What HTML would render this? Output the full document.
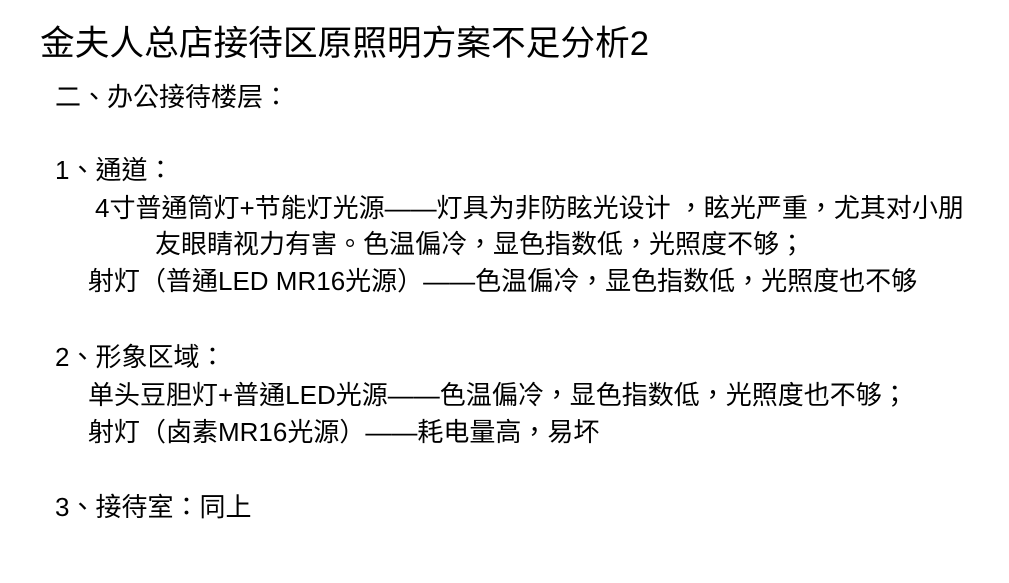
<!DOCTYPE html>
<html><head><meta charset="utf-8"><style>
body{margin:0;width:1009px;height:583px;background:#fff;position:relative;overflow:hidden;font-family:"Liberation Sans","Noto Sans CJK TC",sans-serif;color:#000}
div{position:absolute;white-space:nowrap;font-size:26px;line-height:30px}
.t{font-size:34.7px;line-height:40px;font-family:"Liberation Sans","Noto Sans CJK SC",sans-serif}
</style></head><body>
<div class="t" style="left:40px;top:24px">金夫人总店接待区原照明方案不足分析2</div>
<div style="left:55px;top:82px">二、办公接待楼层：</div>
<div style="left:55px;top:155px">1、通道：</div>
<div style="left:95px;top:193px">4寸普通筒灯+节能灯光源——灯具为非防眩光设计 ，眩光严重，尤其对小朋</div>
<div style="left:155px;top:229px">友眼睛视力有害。色温偏冷，显色指数低，光照度不够；</div>
<div style="left:88px;top:266px">射灯（普通LED MR16光源）——色温偏冷，显色指数低，光照度也不够</div>
<div style="left:55px;top:342px">2、形象区域：</div>
<div style="left:88px;top:380px">单头豆胆灯+普通LED光源——色温偏冷，显色指数低，光照度也不够；</div>
<div style="left:88px;top:417px">射灯（卤素MR16光源）——耗电量高，易坏</div>
<div style="left:55px;top:492px">3、接待室：同上</div>
</body></html>
